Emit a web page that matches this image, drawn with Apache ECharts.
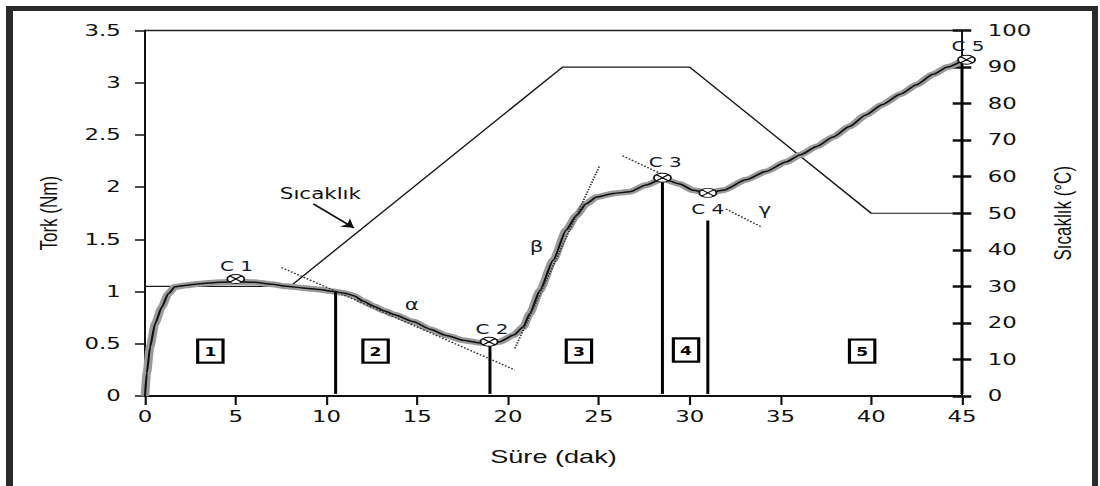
<!DOCTYPE html>
<html>
<head>
<meta charset="utf-8">
<script src="https://cdn.jsdelivr.net/npm/echarts@6/dist/echarts.min.js"></script>
<style>
html,body{margin:0;padding:0;background:#fff;overflow:hidden;}
#wrap{width:1100px;height:486px;position:relative;overflow:hidden;background:#fff;}
#c{width:770px;height:486px;transform:scaleX(1.428571);transform-origin:0 0;}
</style>
</head>
<body>
<div id="wrap"><div id="c"></div></div>
<script>
// ---- data ----
const timeMin = [0, 0.1, 0.28, 0.55, 0.92, 1.28, 1.65, 2.3, 3.0, 4.1, 5.0, 6.0, 7.0, 7.8, 8.7, 9.6, 10.4, 11.0, 11.5, 12.0, 12.6, 13.2, 13.7, 14.8, 15.7, 16.6, 17.5, 18.4, 19.0, 19.55, 20.3, 20.83, 21.2, 21.75, 22.48, 23.2, 23.77, 24.3, 24.87, 25.8, 26.7, 27.6, 28.5, 29.46, 30.19, 31.0, 31.85, 33.1, 34.2, 35.3, 36.1, 37.0, 37.9, 38.8, 39.7, 40.6, 41.6, 42.5, 43.4, 44.2, 45.0];
const torqueNm = [0, 0.22, 0.47, 0.69, 0.85, 0.98, 1.045, 1.06, 1.075, 1.09, 1.095, 1.09, 1.07, 1.05, 1.035, 1.02, 1.0, 0.985, 0.96, 0.91, 0.86, 0.815, 0.78, 0.71, 0.64, 0.58, 0.535, 0.51, 0.505, 0.52, 0.583, 0.66, 0.79, 1.01, 1.30, 1.59, 1.73, 1.84, 1.905, 1.94, 1.955, 2.02, 2.08, 2.03, 1.97, 1.944, 1.97, 2.07, 2.15, 2.24, 2.31, 2.39, 2.48, 2.58, 2.69, 2.79, 2.89, 2.98, 3.08, 3.15, 3.21];

const tempTime = [0, 8, 23, 30, 40, 45];
const tempC = [30, 30, 90, 90, 50, 50];

const timeTicks = [0, 5, 10, 15, 20, 25, 30, 35, 40, 45];
const torqueTicks = [0, 0.5, 1, 1.5, 2, 2.5, 3, 3.5];
const tempTicks = [0, 10, 20, 30, 40, 50, 60, 70, 80, 90, 100];

const pointNames = ['C 1', 'C 2', 'C 3', 'C 4', 'C 5'];
const pointTime = [5.0, 18.95, 28.5, 31.0, 45.25];
const pointTorque = [1.12, 0.52, 2.09, 1.945, 3.22];

const boundaryTime = [10.5, 19.0, 28.5, 31.0, 45.0];
const boundaryTop = [1.0, 0.49, 2.06, 1.68, 3.2];
const boundaryBottom = [0.02, 0.02, 0.02, 0.02, 0.02];

const regionNames = ['1', '2', '3', '4', '5'];
const regionTime = [3.6, 12.7, 23.9, 29.8, 39.5];
const regionTorque = [0.43, 0.43, 0.43, 0.44, 0.43];

const greekNames = ['α', 'β', 'γ'];
const greekTime = [14.7, 21.57, 34.14];
const greekTorque = [0.877, 1.434, 1.785];

const tangentStartTime = [7.52, 20.37, 26.3, 32.0];
const tangentStartTorque = [1.23, 0.456, 2.30, 1.79];
const tangentEndTime = [20.37, 25.05, 28.4, 33.95];
const tangentEndTorque = [0.25, 2.21, 2.13, 1.62];

const tempLabelText = ['Sıcaklık'];
const tempLabelTime = [9.66];
const tempLabelTorque = [1.936];
const arrowTime = [9.27, 11.5];
const arrowTorque = [1.84, 1.61];

// ---- chart ----
const chart = echarts.init(document.getElementById('c'), null, {renderer: 'svg'});
const ink = '#1a1a1a';
const txt = '#111';
const tickFont = {fontFamily: 'DejaVu Sans', fontSize: 16, color: txt};
const nameFont = {fontFamily: 'Liberation Sans', fontSize: 17, color: txt};
const step = a => a[1] - a[0];

const torqueData = timeMin.map((t, i) => [t, torqueNm[i]]);

const boundarySeries = boundaryTime.map((t, i) => ({
  type: 'line', yAxisIndex: 0, symbol: 'none', silent: true, z: 5,
  data: [[t, boundaryBottom[i]], [t, boundaryTop[i]]],
  lineStyle: {color: '#000', width: 2.1}
}));
const tangentSeries = tangentStartTime.map((t, i) => ({
  type: 'line', yAxisIndex: 0, symbol: 'none', silent: true, z: 4,
  data: [[t, tangentStartTorque[i]], [tangentEndTime[i], tangentEndTorque[i]]],
  lineStyle: {color: '#333', width: 1.3, type: 'dotted'}
}));

const cLabelStyle = [
  {position: 'top', distance: 1, offset: [0.5, 0]},
  {position: 'top', distance: 1, offset: [2, 0]},
  {position: 'top', distance: 4, offset: [2, 0]},
  {position: 'bottom', distance: 4, offset: [0, 0]},
  {position: 'top', distance: 2, offset: [1, 0]}
];

const clearItem = {color: 'rgba(0,0,0,0)', opacity: 1};

const option = {
  animation: false,
  backgroundColor: '#fff',
  grid: {left: 101.5, right: 96.6, top: 30.5, bottom: 90, show: true, borderColor: '#222', borderWidth: 1.3, backgroundColor: 'transparent', containLabel: false, outerBoundsMode: 'none'},
  xAxis: {
    type: 'value', min: timeTicks[0], max: timeTicks[timeTicks.length - 1], interval: step(timeTicks),
    axisLine: {show: true, onZero: false, lineStyle: {color: '#111', width: 2}},
    axisTick: {show: true, inside: false, length: 9, lineStyle: {color: '#111', width: 1.5}},
    splitLine: {show: false},
    axisLabel: Object.assign({margin: 13}, tickFont),
    name: 'Süre (dak)', nameLocation: 'middle', nameGap: 51, nameMoveOverlap: false,
    nameTextStyle: {fontFamily: 'Liberation Sans', fontSize: 19, color: txt}
  },
  yAxis: [
    {
      type: 'value', position: 'left', min: torqueTicks[0], max: torqueTicks[torqueTicks.length - 1], interval: step(torqueTicks),
      axisLine: {show: true, onZero: false, lineStyle: {color: '#111', width: 1.4}},
      axisTick: {show: true, inside: false, length: 7, lineStyle: {color: '#111', width: 1.5}},
      splitLine: {show: false},
      axisLabel: Object.assign({margin: 17}, tickFont),
      name: 'Tork (Nm)', nameLocation: 'middle', nameRotate: 90, nameGap: 59, nameMoveOverlap: false,
      nameTextStyle: nameFont
    },
    {
      type: 'value', position: 'right', offset: 0, min: tempTicks[0], max: tempTicks[tempTicks.length - 1], interval: step(tempTicks),
      axisLine: {show: true, onZero: false, lineStyle: {color: '#111', width: 1.2}},
      axisTick: {show: true, inside: false, length: 6.5, lineStyle: {color: '#111', width: 2.5}},
      splitLine: {show: false},
      axisLabel: Object.assign({margin: 18}, tickFont),
      name: 'Sıcaklık (°C)', nameLocation: 'middle', nameRotate: 90, nameGap: 62, nameMoveOverlap: false,
      nameTextStyle: nameFont
    },
    {
      type: 'value', position: 'right', offset: 0, min: tempTicks[0], max: tempTicks[tempTicks.length - 1], interval: step(tempTicks),
      axisLine: {show: false, onZero: false},
      axisTick: {show: true, inside: true, length: 6.5, lineStyle: {color: '#111', width: 2.5}},
      splitLine: {show: false},
      axisLabel: {show: false}
    }
  ],
  graphic: [
    {type: 'rect', silent: true, shape: {x: 4.2, y: 6, width: 4.9, height: 490}, style: {fill: '#2b2b2b'}},
    {type: 'rect', silent: true, shape: {x: 4.2, y: 6, width: 764.4, height: 5}, style: {fill: '#2b2b2b'}},
    {type: 'rect', silent: true, shape: {x: 764.4, y: 6, width: 4.2, height: 490}, style: {fill: '#2b2b2b'}}
  ],
  series: [
    {
      name: 'Sıcaklık', type: 'line', yAxisIndex: 1, symbol: 'none', silent: true, z: 2,
      data: tempTime.map((t, i) => [t, tempC[i]]),
      lineStyle: {color: ink, width: 1.2}
    },
    {
      name: 'Tork band', type: 'line', yAxisIndex: 0, symbol: 'none', silent: true, z: 3,
      smooth: 0.2, smoothMonotone: 'x',
      data: torqueData,
      lineStyle: {color: '#9a9a9a', width: 6},
      markLine: {
        silent: true, symbol: ['none', 'arrow'], symbolSize: 8, animation: false,
        label: {show: false},
        lineStyle: {color: '#111', width: 1.4, type: 'solid'},
        data: [[{coord: [arrowTime[0], arrowTorque[0]]}, {coord: [arrowTime[1], arrowTorque[1]]}]]
      }
    },
    {
      name: 'Tork', type: 'line', yAxisIndex: 0, symbol: 'none', silent: true, z: 4,
      smooth: 0.2, smoothMonotone: 'x',
      data: torqueData,
      lineStyle: {color: '#111', width: 1.5}
    },
    ...tangentSeries,
    ...boundarySeries,
    {
      name: 'C', type: 'scatter', yAxisIndex: 0, silent: true, z: 7, clip: false,
      symbol: 'path://M1,0 A1,1 0 1,1 -1,0 A1,1 0 1,1 1,0 Z M-0.7,-0.7 L0.7,0.7 M0.7,-0.7 L-0.7,0.7',
      symbolKeepAspect: false,
      symbolSize: [12, 9],
      itemStyle: {color: '#fff', borderColor: '#111', borderWidth: 1.1, opacity: 1},
      label: {show: true, formatter: '{b}', fontFamily: 'DejaVu Sans', fontSize: 14, color: '#141c2c'},
      data: pointNames.map((n, i) => ({name: n, value: [pointTime[i], pointTorque[i]], label: cLabelStyle[i]}))
    },
    {
      name: 'regions', type: 'scatter', yAxisIndex: 0, silent: true, z: 8, clip: false,
      symbolSize: 1, itemStyle: clearItem,
      label: {show: true, position: 'inside', formatter: '{b}', fontFamily: 'DejaVu Sans', fontWeight: 'bold', fontSize: 12, color: '#000',
        backgroundColor: '#fff', borderColor: '#000', borderWidth: 2.2, padding: [4, 3.6, 3, 3.6], lineHeight: 14, opacity: 1},
      data: regionNames.map((n, i) => ({name: n, value: [regionTime[i], regionTorque[i]]}))
    },
    {
      name: 'greek', type: 'scatter', yAxisIndex: 0, silent: true, z: 8, clip: false,
      symbolSize: 1, itemStyle: clearItem,
      label: {show: true, position: 'inside', formatter: '{b}', fontFamily: 'DejaVu Sans', fontSize: 15, color: '#141c2c', opacity: 1},
      data: greekNames.map((n, i) => ({name: n, value: [greekTime[i], greekTorque[i]]}))
    },
    {
      name: 'templabel', type: 'scatter', yAxisIndex: 0, silent: true, z: 8, clip: false,
      symbolSize: 1, itemStyle: clearItem,
      label: {show: true, position: 'inside', formatter: '{b}', fontFamily: 'DejaVu Sans', fontSize: 15, color: '#111', opacity: 1},
      data: tempLabelText.map((n, i) => ({name: n, value: [tempLabelTime[i], tempLabelTorque[i]]}))
    }
  ]
};
chart.setOption(option);
</script>
</body>
</html>
